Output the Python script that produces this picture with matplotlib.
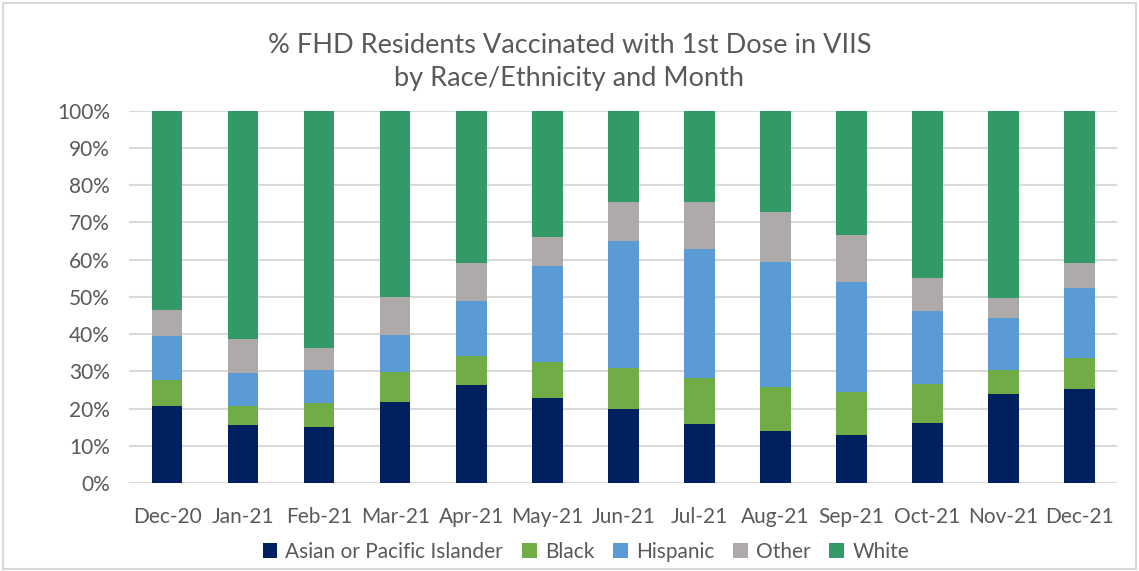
import matplotlib.pyplot as plt
import numpy as np
from matplotlib.patches import Rectangle
from matplotlib.ticker import PercentFormatter

months = ["Dec-20", "Jan-21", "Feb-21", "Mar-21", "Apr-21", "May-21", "Jun-21",
          "Jul-21", "Aug-21", "Sep-21", "Oct-21", "Nov-21", "Dec-21"]

asian = [20.7, 15.5, 15.1, 21.9, 26.4, 22.9, 19.9, 15.9, 13.9, 13.0, 16.2, 23.9, 25.3]
black = [7.1, 5.3, 6.4, 7.9, 7.8, 9.5, 11.1, 12.3, 12.0, 11.5, 10.5, 6.6, 8.3]
hispanic = [11.7, 8.8, 8.9, 10.1, 14.8, 25.9, 34.0, 34.6, 33.6, 29.6, 19.6, 13.9, 18.8]
other = [7.1, 9.2, 5.8, 10.0, 10.0, 7.9, 10.6, 12.8, 13.4, 12.4, 8.8, 5.3, 6.8]
white = [53.4, 61.2, 63.8, 50.1, 41.0, 33.8, 24.4, 24.4, 27.1, 33.5, 44.9, 50.3, 40.8]

series = [
    ("Asian or Pacific Islander", asian, "#002060"),
    ("Black", black, "#70AD47"),
    ("Hispanic", hispanic, "#5B9BD5"),
    ("Other", other, "#AEAAAA"),
    ("White", white, "#339966"),
]

plt.rcParams["font.family"] = ["Lato", "DejaVu Sans"]
text_color = "#595959"

fig = plt.figure(figsize=(11.39, 5.71), dpi=100)
ax = fig.add_axes([0.1135, 0.154, 0.8675, 0.652])

x = np.arange(len(months))
bottom = np.zeros(len(months))
for name, vals, color in series:
    ax.bar(x, vals, 0.4, bottom=bottom, color=color, label=name, zorder=3)
    bottom += np.array(vals)

ax.set_xlim(-0.5, len(months) - 0.5)
ax.set_ylim(0, 100)
ax.set_yticks(np.arange(0, 101, 10))
ax.yaxis.set_major_formatter(PercentFormatter(decimals=0))
ax.set_xticks(x)
ax.set_xticklabels(months)
ax.grid(axis="y", color="#d9d9d9", linewidth=1.5, zorder=0)
for s in ax.spines.values():
    s.set_visible(False)
ax.tick_params(length=0, labelsize=15, colors=text_color)
ax.tick_params(axis="x", pad=17)
ax.tick_params(axis="y", pad=14)

fig.text(0.5, 0.921, "% FHD Residents Vaccinated with 1st Dose in VIIS",
         ha="center", va="center", fontsize=19.5, color=text_color)
fig.text(0.5, 0.863, "by Race/Ethnicity and Month",
         ha="center", va="center", fontsize=19.5, color=text_color)

ax.legend(loc="center", bbox_to_anchor=(0.462, -0.185), ncol=5, frameon=False,
          fontsize=15, labelcolor=text_color, handlelength=0.7, handleheight=0.7,
          handletextpad=0.4, columnspacing=0.9)

fig.patches.append(Rectangle((0.003, 0.003), 0.994, 0.991, transform=fig.transFigure,
                             fill=False, edgecolor="#d9d9d9", linewidth=1.5))

fig.savefig("out.png", dpi=100)
